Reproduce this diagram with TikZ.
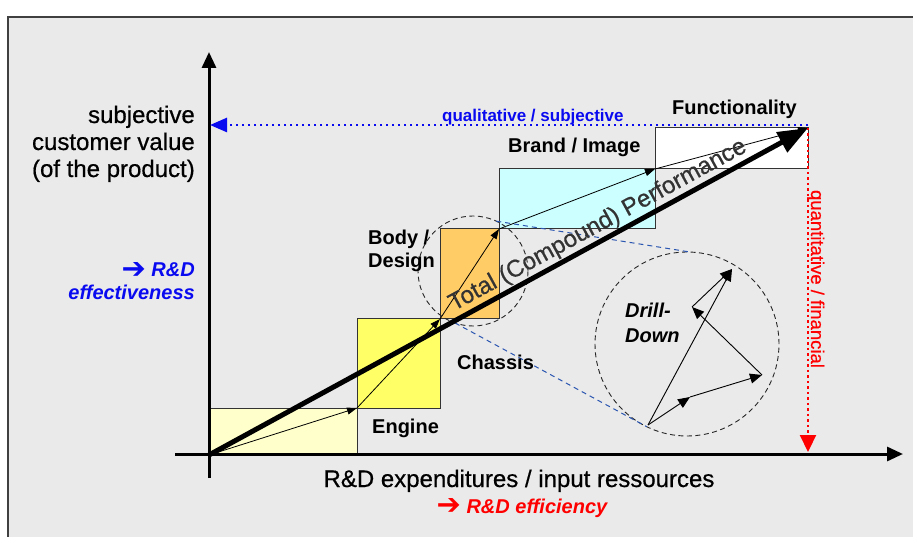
\documentclass[tikz,border=0pt]{standalone}
\usepackage{fontspec}
\setmainfont{Liberation Sans}
\newfontfamily\dejavu{DejaVu Sans}
\newfontfamily\heavysans[FakeBold=0.6]{Liberation Sans}
\usetikzlibrary{arrows.meta}
\definecolor{bggray}{HTML}{EAEAEA}
\definecolor{engcol}{HTML}{FFFFCC}
\definecolor{chacol}{HTML}{FFFF66}
\definecolor{bodcol}{HTML}{FFCC66}
\definecolor{bracol}{HTML}{CCFFFF}
\definecolor{myblue}{HTML}{0A0AF0}
\definecolor{myred}{HTML}{FF0000}
\definecolor{dashblue}{HTML}{2A55B0}
\definecolor{perfgray}{HTML}{333333}
\newcommand{\bigarrowglyph}{\raisebox{-1.5pt}{\scalebox{1.45}{\dejavu\bfseries\upshape ➔}}}
\tikzset{
  box/.style={draw=black!80, line width=1pt, inner sep=0pt, outer sep=0pt},
  stepar/.style={line width=0.8pt, -{Triangle[length=10pt,width=7pt]}},
  drillar/.style={line width=0.9pt, -{Triangle[length=12pt,width=10pt]}},
  axisline/.style={line width=3pt, -{Triangle[length=16pt,width=14pt]}},
  zoomcirc/.style={circle, draw=black!85, line width=0.9pt, dash pattern=on 5pt off 3.5pt, inner sep=0pt, outer sep=0pt},
  bluedash/.style={draw=dashblue, line width=1pt, dash pattern=on 5pt off 4pt},
  biglbl/.style={font=\heavysans\fontsize{24}{28}\selectfont, inner sep=0pt},
  boxlbl/.style={font=\fontsize{20}{24}\selectfont\bfseries, inner sep=0pt},
  itlbl/.style={font=\fontsize{20}{24}\selectfont\bfseries\itshape, inner sep=0pt},
}
\begin{document}
\begin{tikzpicture}[x=1pt,y=-1pt]
\useasboundingbox (0,0) rectangle (913,537);
\fill[white] (0,0) rectangle (913,537);
\filldraw[fill=bggray, draw=black!75, line width=1.5pt] (8,17) rectangle (940,560);

% boxes
\node[box, fill=engcol, minimum width=148pt, minimum height=47pt] (engine) at (283,431.5) {};
\node[box, fill=chacol, minimum width=83pt, minimum height=89pt] (chassis) at (398.5,363.5) {};
\node[box, fill=bodcol, minimum width=59pt, minimum height=90pt] (body) at (469.5,274) {};
\node[box, fill=bracol, minimum width=156pt, minimum height=60pt] (brand) at (577,199) {};
\node[box, fill=white, minimum width=153pt, minimum height=41pt] (func) at (731.5,148.5) {};

% axes
\coordinate (ybot) at (209,478);
\coordinate (ytop) at (209,52);
\coordinate (xleft) at (175,454);
\coordinate (xright) at (903,454);
\draw[axisline] (ybot) -- (ytop);
\draw[axisline] (xleft) -- (xright);

% step arrows
\draw[stepar] (engine.south west) -- (engine.north east);
\draw[stepar] (chassis.south west) -- (chassis.north east);
\draw[stepar] (body.south west) -- (body.north east);
\draw[stepar] (brand.south west) -- (brand.north east);
\draw[stepar] (func.south west) -- (func.north east);

% zoom circles
\node[zoomcirc, minimum size=110pt] (zsmall) at (473,271) {};
\node[zoomcirc, minimum size=184pt] (zbig) at (687,344) {};
\draw[bluedash] (zsmall.65) -- (zbig.88);
\draw[bluedash] (zsmall.251) -- (zbig.244);

% drill-down arrows
\coordinate (d0) at (648,425);
\coordinate (d1) at (690,397);
\coordinate (d2) at (762,375);
\coordinate (d3) at (692,307);
\coordinate (d4) at (732,269);
\draw[drillar] (d0) -- (d1);
\draw[drillar] (d1) -- (d2);
\draw[drillar] (d2) -- (d3);
\draw[drillar] (d3) -- (d4);
\draw[drillar] (d0) -- (d4);

% thick total arrow
\draw[line width=5pt, -{Triangle[length=30pt,width=22pt]}] (engine.south west) -- (func.north east);
\node[font=\heavysans\fontsize{24}{28}\selectfont, text=perfgray, rotate=28.6, anchor=base, inner sep=0pt] (perf) at (601,231) {Total (Compound) Performance};

% dotted axes arrows
\coordinate (qstart) at (808,125);
\coordinate (qend) at (210,125);
\draw[draw=myblue, line width=2.5pt, dash pattern=on 2.5pt off 3.5pt, -{Triangle[length=17pt,width=14pt]}] (qstart) -- (qend);
\coordinate (fstart) at (808,128);
\coordinate (fend) at (808,452);
\draw[draw=myred, line width=2.2pt, dash pattern=on 2.2pt off 3.3pt, -{Triangle[length=17pt,width=16pt]}] (fstart) -- (fend);
\node[font=\heavysans\fontsize{18.5}{22}\selectfont, text=myred, rotate=-90, anchor=base, inner sep=0pt] (quant) at (811,279) {quantitative / financial};
\node[font=\fontsize{17}{20}\selectfont\bfseries, text=myblue, anchor=base west, inner sep=0pt] (qual) at (442,122) {qualitative / subjective};

% left labels
\node[biglbl, anchor=base east] (sv1) at (195,123) {subjective};
\node[biglbl, anchor=base east] (sv2) at (195,150) {customer value};
\node[biglbl, anchor=base east] (sv3) at (195,177) {(of the product)};
\node[itlbl, text=myblue, anchor=base east] (eff1) at (195,277) {\bigarrowglyph\ R\&D};
\node[itlbl, text=myblue, anchor=base east] (eff2) at (195,300) {effectiveness};

% bottom labels
\node[biglbl, anchor=base] (xl) at (519,487) {R\&D expenditures / input ressources};
\node[itlbl, text=myred, anchor=base] (xe) at (522,513) {\bigarrowglyph\ R\&D efficiency};

% box labels
\node[boxlbl, anchor=base west] (lfunc) at (672,115) {Functionality};
\node[boxlbl, anchor=base west] (lbrand) at (508,153) {Brand / Image};
\node[boxlbl, anchor=base west] (lbody1) at (368,245) {Body /};
\node[boxlbl, anchor=base west] (lbody2) at (368,268) {Design};
\node[boxlbl, anchor=base west] (lchassis) at (457,369) {Chassis};
\node[boxlbl, anchor=base west] (lengine) at (372,433) {Engine};
\node[itlbl, anchor=base west] (ldrill1) at (625,318) {Drill-};
\node[itlbl, anchor=base west] (ldrill2) at (625,342) {Down};
\end{tikzpicture}
\end{document}
